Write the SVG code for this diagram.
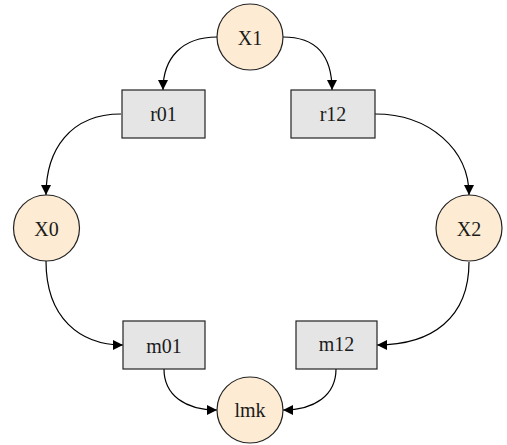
<svg xmlns="http://www.w3.org/2000/svg" width="507" height="445" viewBox="0 0 507 445">
  <style>
    .state circle { fill: #fdebd3; stroke: #222; stroke-width: 1.2; }
    .factor rect { fill: #e5e5e5; stroke: #222; stroke-width: 1.2; }
    text { font-family: "Liberation Serif", "DejaVu Serif", serif; font-size: 20px; fill: #1a1a1a; text-anchor: middle; dominant-baseline: central; }
    .edge { fill: none; stroke: #000; stroke-width: 1.2; marker-end: url(#arrow); }
  </style>
  <defs>
    <marker id="arrow" viewBox="0 0 10 10" refX="10" refY="5" markerWidth="11" markerHeight="10" markerUnits="userSpaceOnUse" orient="auto">
      <path d="M0,0 L10,5 L0,10 Z" fill="#000"/>
    </marker>
  </defs>

  <g id="connectors">
    <path class="edge" d="M217,37 C182,37 163,58 163,90"/>
    <path class="edge" d="M283,37 C318,37 332,58 332,90"/>
    <path class="edge" d="M121,114 C70,114 46,150 46,195"/>
    <path class="edge" d="M375,114 C430,114 469,150 469,195"/>
    <path class="edge" d="M46,261 C46,318 80,345 123,345"/>
    <path class="edge" d="M469,262 C469,318 432,345 377,345"/>
    <path class="edge" d="M164,369 C164,395 185,410 217,410"/>
    <path class="edge" d="M336,369 C336,395 315,410 283,410"/>
  </g>

  <g id="X1" class="state"><circle cx="250" cy="37" r="33"/><text x="250" y="38">X1</text></g>
  <g id="X0" class="state"><circle cx="46.5" cy="228" r="33"/><text x="46.5" y="229">X0</text></g>
  <g id="X2" class="state"><circle cx="469" cy="228" r="33"/><text x="469" y="229">X2</text></g>
  <g id="lmk" class="state"><circle cx="250" cy="410" r="33"/><text x="250" y="410">lmk</text></g>

  <g id="r01" class="factor"><rect x="122" y="90" width="83" height="48"/><text x="163.5" y="114">r01</text></g>
  <g id="r12" class="factor"><rect x="291" y="90" width="84" height="48"/><text x="333" y="114">r12</text></g>
  <g id="m01" class="factor"><rect x="123" y="321" width="82" height="48"/><text x="164" y="346">m01</text></g>
  <g id="m12" class="factor"><rect x="296" y="321" width="81" height="48"/><text x="336.5" y="344">m12</text></g>
</svg>
